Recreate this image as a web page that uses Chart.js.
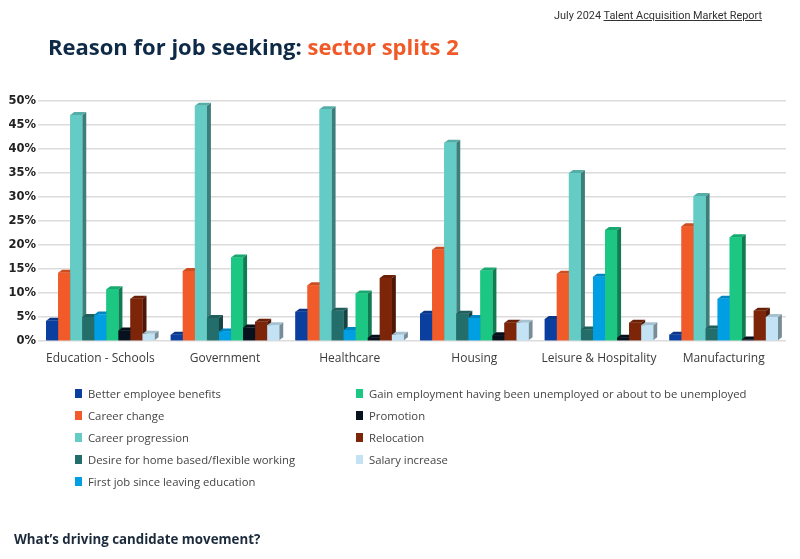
<!DOCTYPE html>
<html>
<head>
<meta charset="utf-8">
<script src="https://cdn.jsdelivr.net/npm/chart.js@4.4.1/dist/chart.umd.min.js"></script>
<style>
  html,body{margin:0;padding:0;background:#fff;}
  body{width:800px;height:559px;position:relative;overflow:hidden;font-family:"Open Sans",sans-serif;}
  #wrap{position:absolute;left:0;top:0;width:800px;height:559px;}
  #topright{position:absolute;right:38px;top:9px;font-family:Roboto,sans-serif;font-size:10.9px;color:#333;}
  #topright u{text-decoration:underline;}
  #title{position:absolute;left:48px;top:31px;font-family:"Open Sans",sans-serif;font-weight:700;font-size:22px;color:#0e2a47;letter-spacing:0px;}
  #title span{color:#f05a28;}
  #legend{position:absolute;left:75px;top:382px;display:grid;grid-auto-flow:column;grid-template-rows:repeat(5,22px);grid-template-columns:281px 420px;}
  .li{display:flex;align-items:center;font-family:"Open Sans",sans-serif;font-size:11.3px;color:#444;}
  .sw{width:7px;height:9px;margin-right:6px;flex:none;}
  #footer{position:absolute;left:14px;top:530px;font-family:"Open Sans",sans-serif;font-weight:700;font-size:13.3px;color:#1c2b3c;}
</style>
</head>
<body>
<div id="wrap"><canvas id="c" width="800" height="559"></canvas></div>
<div id="topright">July 2024 <u>Talent Acquisition Market Report</u></div>
<div id="title">Reason for job seeking: <span>sector splits 2</span></div>
<div id="legend"></div>
<div id="footer">What’s driving candidate movement?</div>
<script>
const categories = ["Education - Schools","Government","Healthcare","Housing","Leisure & Hospitality","Manufacturing"];
const seriesNames = [
  "Better employee benefits",
  "Career change",
  "Career progression",
  "Desire for home based/flexible working",
  "First job since leaving education",
  "Gain employment having been unemployed or about to be unemployed",
  "Promotion",
  "Relocation",
  "Salary increase"
];
const betterBenefits   = [4.2, 1.3, 6.1, 5.7, 4.6, 1.3];
const careerChange     = [14.2, 14.6, 11.6, 19.0, 14.0, 23.9];
const careerProgression= [47.1, 49.0, 48.3, 41.3, 35.0, 30.2];
const homeFlexible     = [5.0, 4.8, 6.3, 5.7, 2.4, 2.6];
const firstJob         = [5.5, 2.0, 2.3, 4.8, 13.4, 8.8];
const gainEmployment   = [10.8, 17.4, 9.9, 14.7, 23.1, 21.6];
const promotion        = [2.2, 2.8, 0.7, 1.2, 0.7, 0.3];
const relocation       = [8.8, 4.0, 13.1, 3.8, 3.8, 6.3];
const salaryIncrease   = [1.5, 3.3, 1.3, 3.8, 3.3, 5.0];
const yTicks = [0,5,10,15,20,25,30,35,40,45,50];

const seriesValues = [betterBenefits,careerChange,careerProgression,homeFlexible,firstJob,gainEmployment,promotion,relocation,salaryIncrease];
const colors = ["#0b3f9f","#f15a29","#64ccc5","#236e6b","#009fe3","#1cc784","#08121f","#7d2508","#c3e3f5"];

function shade(hex, f){
  const n=parseInt(hex.slice(1),16);
  let r=(n>>16)&255,g=(n>>8)&255,b=n&255;
  r=Math.round(r*(1+f)); g=Math.round(g*(1+f)); b=Math.round(b*(1+f));
  return `rgb(${r},${g},${b})`;
}

const bar3d = {
  id:'bar3d',
  afterDatasetsDraw(chart){
    const ctx=chart.ctx, dx=4, dy=3;
    ctx.save();
    chart.data.datasets.forEach((ds,i)=>{
      const meta=chart.getDatasetMeta(i);
      meta.data.forEach(bar=>{
        const p=bar.getProps(['x','y','base','width'],true);
        const l=p.x-p.width/2, r=p.x+p.width/2, y=p.y, b=p.base;
        ctx.fillStyle=shade(ds.backgroundColor,-0.38);
        ctx.beginPath();ctx.moveTo(r,y);ctx.lineTo(r+dx,y-dy);ctx.lineTo(r+dx,b-dy);ctx.lineTo(r,b);ctx.closePath();ctx.fill();
        ctx.fillStyle=shade(ds.backgroundColor,-0.15);
        ctx.beginPath();ctx.moveTo(l,y);ctx.lineTo(l+dx,y-dy);ctx.lineTo(r+dx,y-dy);ctx.lineTo(r,y);ctx.closePath();ctx.fill();
        ctx.fillStyle=ds.backgroundColor;
        ctx.fillRect(l,y,p.width,b-y);
      });
    });
    ctx.restore();
  }
};

new Chart(document.getElementById('c'),{
  type:'bar',
  data:{
    labels:categories,
    datasets:seriesNames.map((n,i)=>({label:n,data:seriesValues[i],backgroundColor:colors[i],borderWidth:0,barPercentage:1,categoryPercentage:0.87}))
  },
  options:{
    responsive:false,
    animation:false,
    layout:{padding:{top:101,right:14,bottom:188,left:0}},
    plugins:{legend:{display:false},tooltip:{enabled:false}},
    scales:{
      x:{
        grid:{display:false},border:{display:false},
        ticks:{color:"#3a3a3a",font:{family:"Open Sans",size:12},padding:2,maxRotation:0,autoSkip:false},
        afterFit(s){s.height=30;}
      },
      y:{
        min:0,max:50,
        afterBuildTicks(s){s.ticks=yTicks.map(v=>({value:v}));},
        grid:{color:"#dcdcdc",lineWidth:1.5,drawTicks:false},border:{display:false},
        ticks:{color:"#222",font:{family:"DejaVu Sans",size:11.5,weight:"bold"},padding:2,callback:v=>v+"%"},
        afterFit(s){s.width=38;}
      }
    }
  },
  plugins:[bar3d]
});

const lg=document.getElementById('legend');
seriesNames.forEach((n,i)=>{
  const d=document.createElement('div');d.className='li';
  d.innerHTML=`<span class="sw" style="background:${colors[i]}"></span>${n}`;
  lg.appendChild(d);
});
</script>
</body>
</html>
